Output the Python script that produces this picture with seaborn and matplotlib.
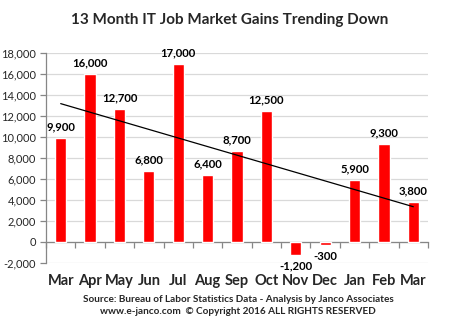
import numpy as np
import pandas as pd
import matplotlib
matplotlib.use("Agg")
import matplotlib.pyplot as plt
import seaborn as sns
from matplotlib.ticker import FuncFormatter, FixedLocator

months = ["Mar", "Apr", "May", "Jun", "Jul", "Aug", "Sep", "Oct", "Nov", "Dec", "Jan", "Feb", "Mar"]
job_gains = [9900, 16000, 12700, 6800, 17000, 6400, 8700, 12500, -1200, -300, 5900, 9300, 3800]
y_ticks = list(range(-2000, 18001, 2000))
title = "13 Month IT Job Market Gains Trending Down"
source_lines = ["Source: Bureau of Labor Statistics Data - Analysis by Janco Associates",
                "www.e-janco.com  \u00a9 Copyright 2016 ALL RIGHTS RESERVED"]

sns.set_theme(style="white")
plt.rcParams["font.family"] = ["Lato", "DejaVu Sans"]

df = pd.DataFrame({"pos": np.arange(len(months)), "gain": job_gains})

fig = plt.figure(figsize=(4.61, 3.30), dpi=100)
ax = fig.add_axes([46 / 461, 1 - 263 / 330, (428 - 46) / 461, (263 - 53) / 330])

sns.barplot(data=df, x="pos", y="gain", color="#FF0000", saturation=1,
            width=0.38, ax=ax, zorder=3)

# linear trend across the 13 months
slope, intercept = np.polyfit(df["pos"], df["gain"], 1)
ax.plot(df["pos"], slope * df["pos"] + intercept, color="black", lw=0.9, zorder=4)

# value labels
for bar, v in zip(ax.patches, job_gains):
    x = bar.get_x() + bar.get_width() / 2
    if v >= 0:
        ax.annotate(f"{v:,}", (x, v), xytext=(0, 4), textcoords="offset points",
                    ha="center", va="bottom", fontsize=8.2, fontweight="bold", color="black")
    else:
        ax.annotate(f"{v:,}", (x, v), xytext=(0, -4), textcoords="offset points",
                    ha="center", va="top", fontsize=8.2, fontweight="bold", color="black")

ax.set_xlim(-0.5, len(months) - 0.5)
ax.set_ylim(-2000, 18000)
ax.set_yticks(y_ticks)
ax.yaxis.set_major_formatter(FuncFormatter(lambda v, p: f"{int(v):,}"))
ax.grid(axis="y", color="#D9D9D9", lw=0.9, zorder=0)
ax.set_axisbelow(True)

for s in ["top", "right"]:
    ax.spines[s].set_visible(False)
ax.spines["left"].set_color("#868686")
ax.spines["left"].set_linewidth(0.9)
ax.spines["bottom"].set_position(("data", 0))
ax.spines["bottom"].set_color("#868686")
ax.spines["bottom"].set_linewidth(0.9)

ax.set_xticks(range(len(months)))
ax.set_xticklabels(months, fontsize=10.5, fontweight="bold")
ax.xaxis.set_minor_locator(FixedLocator(np.arange(-0.5, len(months), 1.0)))
ax.tick_params(axis="x", which="major", length=0, pad=23)
ax.tick_params(axis="x", which="minor", length=4, width=0.9, color="#868686", direction="out", bottom=True)
ax.tick_params(axis="y", which="major", length=4, width=0.9, color="#868686", direction="out",
               left=True, labelsize=8, pad=3)
ax.set_xlabel("")
ax.set_ylabel("")

fig.text(230 / 461, 1 - 20 / 330, title, ha="center", va="center", fontsize=11, fontweight="bold")
fig.text(238 / 461, 1 - 299 / 330, source_lines[0], ha="center", va="center", fontsize=7.2, fontweight="bold")
fig.text(238 / 461, 1 - 311 / 330, source_lines[1], ha="center", va="center", fontsize=7.2, fontweight="bold")

fig.savefig("out.png", dpi=100)
